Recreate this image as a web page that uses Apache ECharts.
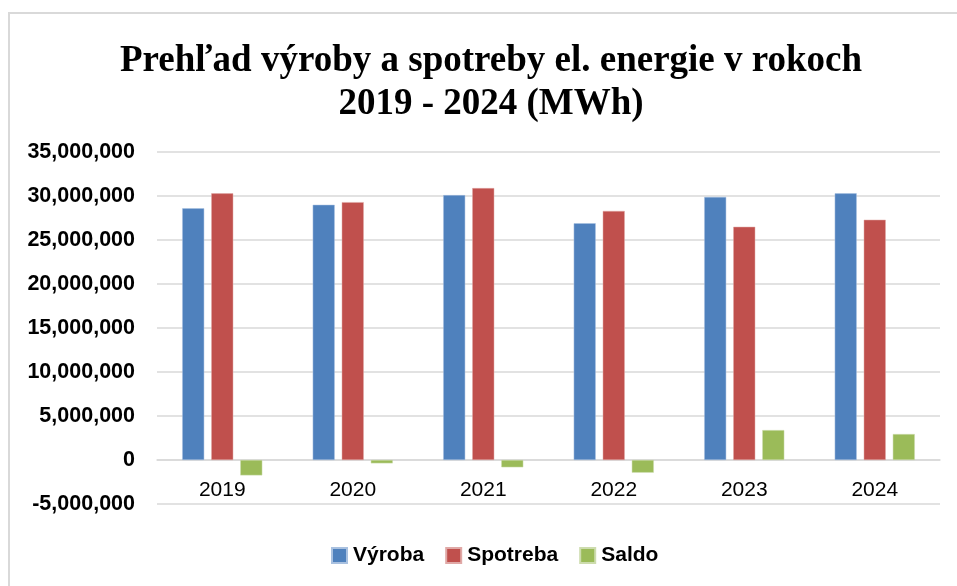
<!DOCTYPE html>
<html>
<head>
<meta charset="utf-8">
<script src="https://cdn.jsdelivr.net/npm/echarts@6/dist/echarts.min.js"></script>
<style>
html,body{margin:0;padding:0;background:#fff;overflow:hidden;}
#frame{position:absolute;left:8px;top:12px;width:960px;height:600px;border-left:2px solid #d9d9d9;border-top:2px solid #d9d9d9;box-sizing:border-box;}
#chart{position:absolute;left:0;top:0;width:957px;height:586px;}
</style>
</head>
<body>
<div id="frame"></div>
<div id="chart"></div>
<script>
const categories = ['2019', '2020', '2021', '2022', '2023', '2024'];
const vyroba = [28600000, 29000000, 30100000, 26900000, 29900000, 30300000];
const spotreba = [30300000, 29300000, 30900000, 28300000, 26500000, 27300000];
const saldo = [-1750000, -380000, -830000, -1440000, 3400000, 2950000];
const seriesNames = ['Výroba', 'Spotreba', 'Saldo'];
const titleText = 'Prehľad výroby a spotreby el. energie v rokoch\n2019 - 2024 (MWh)';

const chart = echarts.init(document.getElementById('chart'), null, {renderer: 'canvas'});
const fmt = v => v.toLocaleString('en-US');
chart.setOption({
  animation: false,
  color: ['#4F81BD', '#C0504D', '#9BBB59'],
  title: {
    text: titleText,
    left: 486,
    top: 35,
    textAlign: 'center',
    textStyle: {fontFamily: 'Liberation Serif', fontWeight: 'bold', fontSize: 37, lineHeight: 43, color: '#000'}
  },
  legend: {
    data: seriesNames,
    top: 540,
    left: 326,
    itemWidth: 15,
    itemHeight: 15,
    itemGap: 21,
    icon: 'rect',
    textStyle: {fontFamily: 'Liberation Sans', fontWeight: 'bold', fontSize: 21, color: '#000', padding: [0, 0, 0, 1]}
  },
  grid: {left: 157, right: 17, top: 152, bottom: 82},
  xAxis: {
    type: 'category',
    data: categories,
    offset: -44,
    axisTick: {show: false},
    axisLine: {onZero: false, lineStyle: {color: '#d9d9d9', width: 1.5}},
    axisLabel: {fontFamily: 'Liberation Sans', fontSize: 21, color: '#000', margin: 20}
  },
  yAxis: {
    type: 'value',
    min: -5000000,
    max: 35000000,
    interval: 5000000,
    axisLine: {show: false},
    axisTick: {show: false},
    splitLine: {lineStyle: {color: '#d9d9d9', width: 1.5}},
    axisLabel: {fontFamily: 'Liberation Sans', fontWeight: 'bold', fontSize: 21.5, color: '#000', margin: 22, formatter: fmt}
  },
  series: [
    {name: seriesNames[0], type: 'bar', data: vyroba, barWidth: 22, barGap: '32%', itemStyle: {borderColor: '#a9c1e0', borderWidth: 0.5}},
    {name: seriesNames[1], type: 'bar', data: spotreba, barWidth: 22, barGap: '32%', itemStyle: {borderColor: '#e0a9a7', borderWidth: 0.5}},
    {name: seriesNames[2], type: 'bar', data: saldo, barWidth: 22, barGap: '32%', itemStyle: {borderColor: '#cddcae', borderWidth: 0.5}}
  ]
});
</script>
</body>
</html>
